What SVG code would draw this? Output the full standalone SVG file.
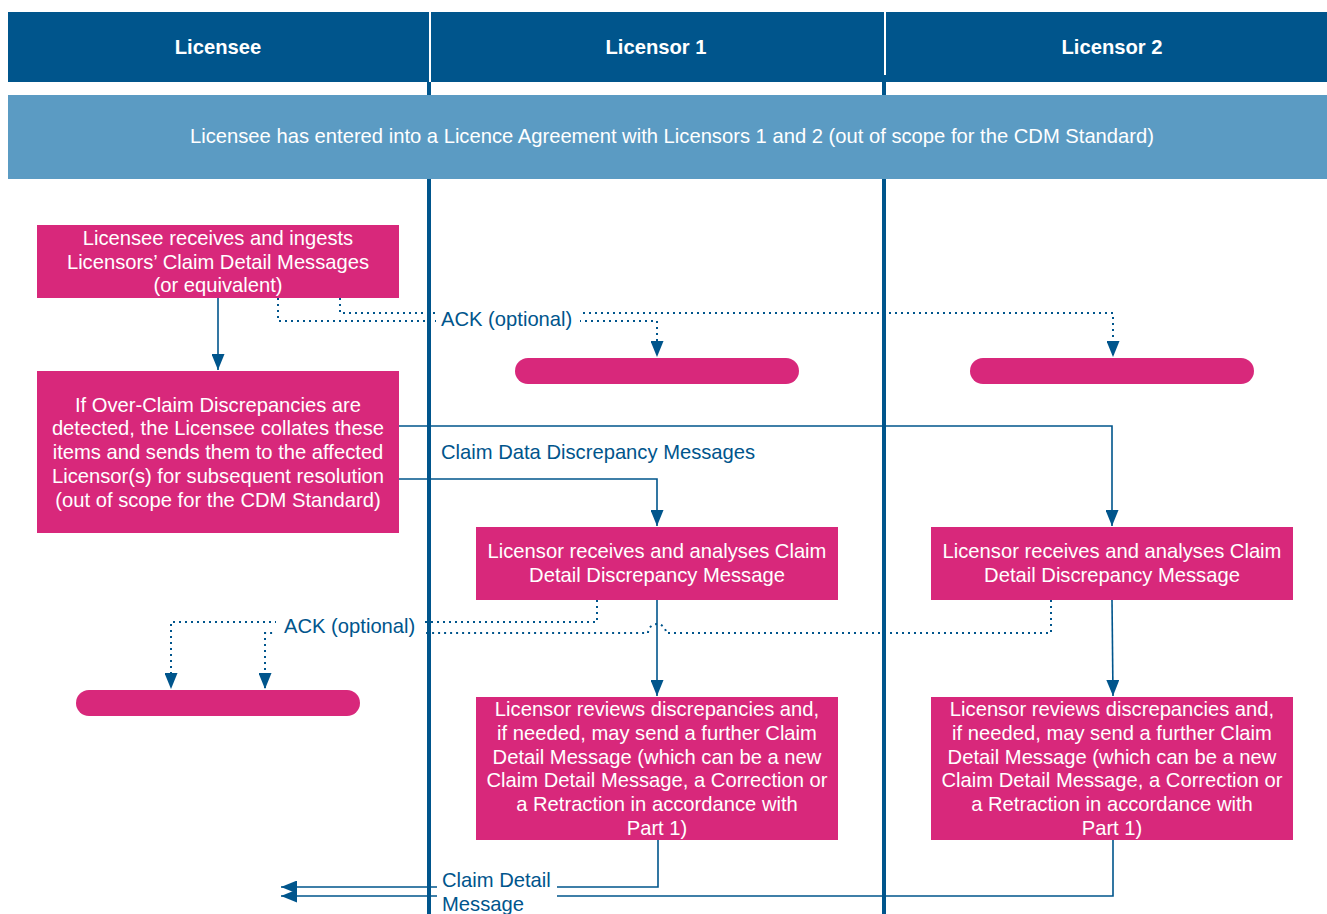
<svg xmlns="http://www.w3.org/2000/svg" width="1327" height="914" viewBox="0 0 1327 914">
<style>
.hdr{fill:#00558c}
.hdrt{font-family:"Liberation Sans",Arial,sans-serif;font-size:20.2px;font-weight:bold;fill:#fff;text-anchor:middle}
.bt{font-family:"Liberation Sans",Arial,sans-serif;font-size:20.2px;fill:#fff;text-anchor:middle}
.box{fill:#d8287b}
.lbl{font-family:"Liberation Sans",Arial,sans-serif;font-size:20.2px;fill:#00558c}
.solid{fill:none;stroke:#00558c;stroke-width:1.6}
.dot{fill:none;stroke:#00558c;stroke-width:2;stroke-dasharray:2 4}
.div{stroke:#00558c;stroke-width:4}
</style>
<defs>
<marker id="ah" markerUnits="userSpaceOnUse" markerWidth="17" markerHeight="13" refX="16" refY="6.5" orient="auto">
<path d="M0,0 L16,6.5 L0,13 z" fill="#00558c"/>
</marker>
</defs>
<rect width="1327" height="914" fill="#fff"/>
<g id="lanes">
<line class="div" x1="429" y1="82" x2="429" y2="914"/>
<line class="div" x1="884" y1="76" x2="884" y2="914"/>
</g>
<g id="header">
<rect class="hdr" x="8" y="12" width="1319" height="70"/>
<line x1="430" y1="12" x2="430" y2="82" stroke="#fff" stroke-width="2"/>
<line x1="885" y1="12" x2="885" y2="75" stroke="#fff" stroke-width="2"/>
<text class="hdrt" x="218" y="54">Licensee</text>
<text class="hdrt" x="656" y="54">Licensor 1</text>
<text class="hdrt" x="1112" y="54">Licensor 2</text>
</g>
<g id="banner">
<rect x="8" y="95" width="1319" height="84" fill="#5b9bc3"/>
<text class="bt" x="672" y="143">Licensee has entered into a Licence Agreement with Licensors 1 and 2 (out of scope for the CDM Standard)</text>
</g>
<g id="connectors">
<path class="solid" d="M218,298 V370" marker-end="url(#ah)"/>
<path class="dot" d="M278,298 V321 H657 V357" marker-end="url(#ah)"/>
<path class="dot" d="M340,298 V313 H1113 V357" marker-end="url(#ah)"/>
<path class="solid" d="M399,426 H1112 V526" marker-end="url(#ah)"/>
<path class="solid" d="M399,479 H657 V526" marker-end="url(#ah)"/>
<path class="solid" d="M657,600 V696" marker-end="url(#ah)"/>
<path class="solid" d="M1112,600 L1113,696" marker-end="url(#ah)"/>
<path class="dot" d="M597,600 V622 H171 V689" marker-end="url(#ah)"/>
<path class="dot" d="M1051,600 V633 H666 A9,9 0 0 0 648,633 H265 V689" marker-end="url(#ah)"/>
<path class="solid" d="M658,840 V887 H281" marker-end="url(#ah)"/>
<path class="solid" d="M1113,840 V896 H281" marker-end="url(#ah)"/>
<rect x="436" y="306" width="144" height="27" fill="#fff"/>
<text class="lbl" x="441" y="326">ACK (optional)</text>
<text class="lbl" x="441" y="459">Claim Data Discrepancy Messages</text>
<rect x="276" y="612" width="148" height="28" fill="#fff"/>
<text class="lbl" x="284" y="633">ACK (optional)</text>
<rect x="437" y="866" width="120" height="48" fill="#fff"/>
<text class="lbl" x="442" y="887">Claim Detail</text>
<text class="lbl" x="442" y="911">Message</text>
</g>
<g id="n1">
<rect class="box" x="37" y="225" width="362" height="73"/>
<text class="bt" x="218" y="245">Licensee receives and ingests</text>
<text class="bt" x="218" y="269">Licensors’ Claim Detail Messages</text>
<text class="bt" x="218" y="292">(or equivalent)</text>
</g>
<g id="n2">
<rect class="box" x="37" y="371" width="362" height="162"/>
<text class="bt" x="218" y="412">If Over-Claim Discrepancies are</text>
<text class="bt" x="218" y="435">detected, the Licensee collates these</text>
<text class="bt" x="218" y="459">items and sends them to the affected</text>
<text class="bt" x="218" y="483">Licensor(s) for subsequent resolution</text>
<text class="bt" x="218" y="507">(out of scope for the CDM Standard)</text>
</g>
<g id="pill1"><rect class="box" x="515" y="358" width="284" height="26" rx="13"/></g>
<g id="pill2"><rect class="box" x="970" y="358" width="284" height="26" rx="13"/></g>
<g id="pill3"><rect class="box" x="76" y="690" width="284" height="26" rx="13"/></g>
<g id="n3">
<rect class="box" x="476" y="527" width="362" height="73"/>
<text class="bt" x="657" y="558">Licensor receives and analyses Claim</text>
<text class="bt" x="657" y="582">Detail Discrepancy Message</text>
</g>
<g id="n4">
<rect class="box" x="931" y="527" width="362" height="73"/>
<text class="bt" x="1112" y="558">Licensor receives and analyses Claim</text>
<text class="bt" x="1112" y="582">Detail Discrepancy Message</text>
</g>
<g id="n5">
<rect class="box" x="476" y="697" width="362" height="143"/>
<text class="bt" x="657" y="716">Licensor reviews discrepancies and,</text>
<text class="bt" x="657" y="740">if needed, may send a further Claim</text>
<text class="bt" x="657" y="764">Detail Message (which can be a new</text>
<text class="bt" x="657" y="787">Claim Detail Message, a Correction or</text>
<text class="bt" x="657" y="811">a Retraction in accordance with</text>
<text class="bt" x="657" y="835">Part 1)</text>
</g>
<g id="n6">
<rect class="box" x="931" y="697" width="362" height="143"/>
<text class="bt" x="1112" y="716">Licensor reviews discrepancies and,</text>
<text class="bt" x="1112" y="740">if needed, may send a further Claim</text>
<text class="bt" x="1112" y="764">Detail Message (which can be a new</text>
<text class="bt" x="1112" y="787">Claim Detail Message, a Correction or</text>
<text class="bt" x="1112" y="811">a Retraction in accordance with</text>
<text class="bt" x="1112" y="835">Part 1)</text>
</g>
</svg>
